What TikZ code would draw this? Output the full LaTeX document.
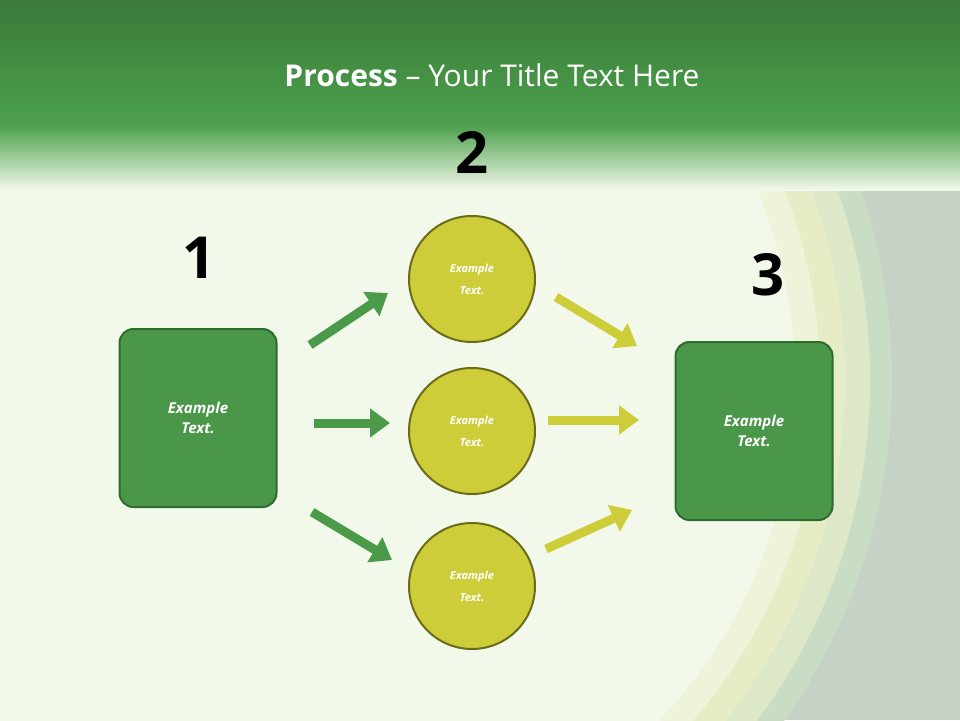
\documentclass[tikz,border=0pt]{standalone}
\usepackage{fontspec}
\setmainfont{Open Sans}
\usetikzlibrary{arrows.meta}
\definecolor{hdark}{HTML}{3A7A3A}
\definecolor{hmid}{HTML}{4CA04C}
\definecolor{bglight}{HTML}{F2F8EA}
\definecolor{boxg}{HTML}{4A974A}
\definecolor{boxb}{HTML}{2E6B2E}
\definecolor{circy}{HTML}{CDCD3A}
\definecolor{circb}{HTML}{6B6B1A}
\definecolor{arrg}{HTML}{4A9A4A}
\definecolor{arry}{HTML}{CDCD3A}
\definecolor{grayr}{HTML}{C6D2C6}
\definecolor{ring1}{HTML}{C9DCC4}
\definecolor{ring2}{HTML}{DCE8C8}
\definecolor{ring3}{HTML}{E6EDC6}
\definecolor{ring4}{HTML}{EEF4DA}
\tikzset{
 box/.style={draw=boxb,line width=2pt,fill=boxg,rounded corners=14pt,minimum width=157pt,minimum height=178pt,text=white,font=\bfseries\itshape\fontsize{15}{20}\selectfont,align=center},
 circ/.style={circle,draw=circb,line width=2pt,fill=circy,minimum size=126pt,text=white,font=\bfseries\itshape\fontsize{11}{22}\selectfont,align=center},
 num/.style={font=\bfseries\fontsize{58}{60}\selectfont},
 garrow/.style={arrg,line width=9pt,-{Triangle[length=20pt,width=28pt]}},
 yarrow/.style={arry,line width=9pt,-{Triangle[length=20pt,width=28pt]}}
}
\begin{document}
\begin{tikzpicture}[x=1pt,y=-1pt]
\useasboundingbox (0,0) rectangle (960,720);
\fill[bglight] (0,0) rectangle (960,720);
\begin{scope}
\clip (0,0) rectangle (960,720);
\fill[grayr] (700,0) rectangle (960,720);
\fill[ring1] (300,380) circle (592);
\fill[ring2] (300,380) circle (570);
\fill[ring3] (300,380) circle (545);
\fill[ring4] (300,380) circle (520);
\fill[bglight] (300,380) circle (495);
\end{scope}
\shade[top color=hdark,bottom color=hmid] (0,0) rectangle (960,125);
\shade[top color=hmid,bottom color=bglight] (0,125) rectangle (960,190);
\node[text=white,font=\fontsize{30}{34}\selectfont] (title) at (492,75) {\textbf{Process} – Your Title Text Here};
\node[num] (n1) at (199,258) {1};
\node[num] (n2) at (472,152) {2};
\node[num] (n3) at (768,275) {3};
\node[box] (b1) at (198,418) {Example\\Text.};
\node[box] (b3) at (754,431) {Example\\Text.};
\node[circ] (c1) at (472,279) {Example\\Text.};
\node[circ] (c2) at (472,431) {Example\\Text.};
\node[circ] (c3) at (472,586) {Example\\Text.};
\coordinate (g1a) at (310,345); \coordinate (g1b) at (388,293);
\coordinate (g2a) at (314,423); \coordinate (g2b) at (390,423);
\coordinate (g3a) at (312,512); \coordinate (g3b) at (392,560);
\coordinate (y1a) at (556,297); \coordinate (y1b) at (637,346);
\coordinate (y2a) at (548,420); \coordinate (y2b) at (639,420);
\coordinate (y3a) at (546,549); \coordinate (y3b) at (632,510);
\draw[garrow] (g1a) -- (g1b);
\draw[garrow] (g2a) -- (g2b);
\draw[garrow] (g3a) -- (g3b);
\draw[yarrow] (y1a) -- (y1b);
\draw[yarrow] (y2a) -- (y2b);
\draw[yarrow] (y3a) -- (y3b);
\end{tikzpicture}
\end{document}
